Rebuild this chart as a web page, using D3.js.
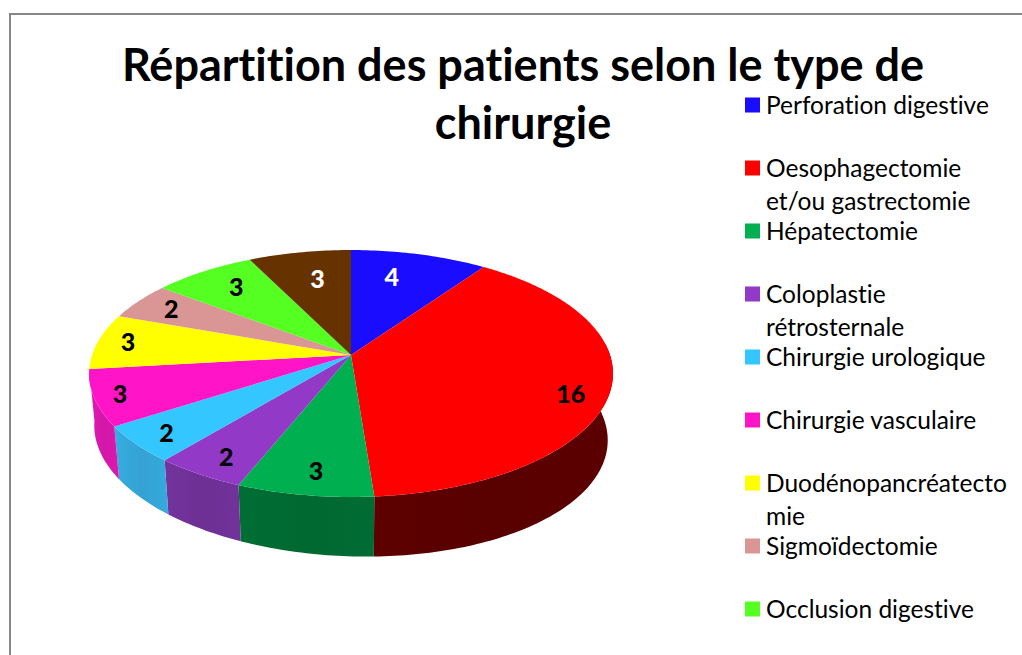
<!DOCTYPE html>
<html><head><meta charset="utf-8">
<script src="https://cdn.jsdelivr.net/npm/d3@7"></script>
<style>html,body{margin:0;padding:0;background:#fff;overflow:hidden}text{font-family:Lato,sans-serif;fill:#000;font-variant-ligatures:none}</style>
</head><body><svg id="c" width="1022" height="655"></svg>
<script>
const titleLines = ["Répartition des patients selon le type de","chirurgie"];
const categories = [["Perforation digestive"],["Oesophagectomie","et/ou gastrectomie"],["Hépatectomie"],["Coloplastie","rétrosternale"],["Chirurgie urologique"],["Chirurgie vasculaire"],["Duodénopancréatecto","mie"],["Sigmoïdectomie"],["Occlusion digestive"]];
const values = [4,16,3,2,2,3,3,2,3,3];
const colors = ["#1a0dff","#ff0000","#00b050","#9239c8","#33c6ff","#ff14c8","#ffff00","#d99694","#55ff22","#663300"];
const wallColors = ["#10087a","#5a0000","#006a32","#6f3197","#35a6d8","#d818ac","#b0b000","#a06e6c","#38a818","#3c1e00"];
const labelColors = ["#fff","#000","#000","#000","#000","#000","#000","#000","#000","#fff"];
const labelNudgeX = [-9,40,-4,-23,-39,-54,-45,-28,-8,4];
const labelNudgeY = [-5,16,23,22,18,9,-3,-8,-8,-1];

const svg = d3.select("#c");
const defs = svg.append("defs");
svg.append("rect").attr("x",10).attr("y",14).attr("width",1040).attr("height",700)
  .attr("fill","#fff").attr("stroke","#868686").attr("stroke-width",2);

// perspective projection of the pie disc
const cx=351, cy=355, RX=259, RY=120.7, K=0.15;
function proj(a,r){const u=r*Math.sin(a),v=-r*Math.cos(a),s=1/(1-K*v);return [cx+RX*u*s,cy+RY*v*s];}
function base(p){return [cx+0.98*(p[0]-cx),p[1]+60+0.028*(p[0]-374)];}
const arcs = d3.pie().sort(null)(values);
const line = d3.line();
const step = Math.PI/180;
const rimBetween=(a0,a1)=>{const pts=d3.range(a0,a1,step).map(a=>proj(a,1));pts.push(proj(a1,1));return pts;};
const rim = d=>rimBetween(d.startAngle,d.endAngle);

const g = svg.append("g");
// only the walls facing the viewer are drawn: they run from the right edge to the end of the pink slice
const wallFrom = Math.PI*0.47, wallTo = arcs[5].endAngle;
arcs.forEach((d,i)=>{
  const a0=Math.max(d.startAngle,wallFrom), a1=Math.min(d.endAngle,wallTo);
  if(a1<=a0) return;
  const top=rimBetween(a0,a1), bot=top.map(base).reverse();
  const xs=top.concat(bot).map(p=>p[0]);
  const id="w"+i;
  const c=d3.color(wallColors[i]);
  const gr=defs.append("linearGradient").attr("id",id).attr("gradientUnits","userSpaceOnUse")
    .attr("x1",d3.min(xs)).attr("x2",d3.max(xs)).attr("y1",0).attr("y2",0);
  gr.append("stop").attr("offset",0).attr("stop-color",c.brighter(0.12));
  gr.append("stop").attr("offset",0.5).attr("stop-color",c.darker(0.06));
  gr.append("stop").attr("offset",1).attr("stop-color",c.brighter(0.05));
  g.append("path").attr("d",line(top.concat(bot))+"Z").attr("fill",`url(#${id})`);
});
arcs.forEach((d,i)=>{
  g.append("path").attr("d",line([[cx,cy]].concat(rim(d)))+"Z").attr("fill",colors[i]);
});
arcs.forEach((d,i)=>{
  const p=proj((d.startAngle+d.endAngle)/2,0.7);
  svg.append("text").attr("x",p[0]+labelNudgeX[i]).attr("y",p[1]+labelNudgeY[i]+9)
    .attr("text-anchor","middle").attr("font-size",25).attr("font-weight",900)
    .style("fill",labelColors[i]).text(values[i]);
});

svg.selectAll(".t").data(titleLines).join("text").attr("class","t")
  .attr("x",523).attr("y",(d,i)=>81+i*58).attr("text-anchor","middle")
  .attr("font-size",45).attr("font-weight",700).text(d=>d);

const ly=d3.scaleLinear().domain([0,1]).range([105,168]);
categories.forEach((lines,i)=>{
  const y=ly(i);
  svg.append("rect").attr("x",745).attr("y",y-7.5).attr("width",15).attr("height",15).attr("fill",colors[i]);
  lines.forEach((t,j)=>svg.append("text").attr("x",766).attr("y",y+9+j*32.5).attr("font-size",24.5).text(t));
});
</script></body></html>
